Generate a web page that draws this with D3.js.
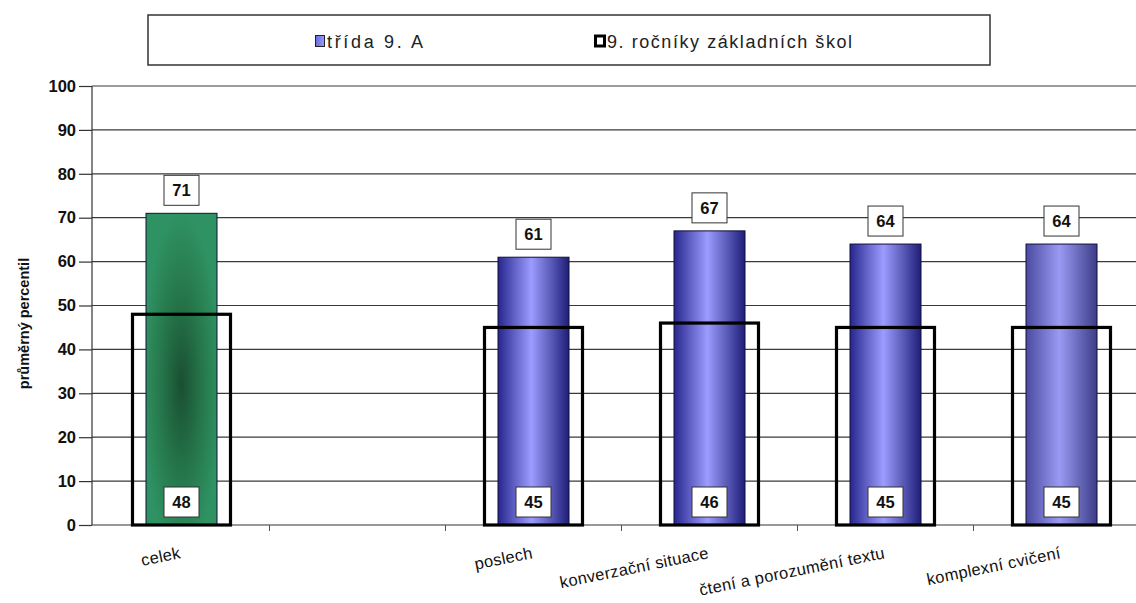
<!DOCTYPE html>
<html>
<head>
<meta charset="utf-8">
<script src="https://cdn.jsdelivr.net/npm/d3@7/dist/d3.min.js"></script>
<style>
  html, body { margin: 0; padding: 0; background: #fff; }
  svg { display: block; font-family: "Liberation Sans", Arial, sans-serif; }
</style>
</head>
<body>
<svg id="chart" width="1136" height="603"></svg>
<script>
// ---- data ----
const categories = ["celek", "", "poslech", "konverzační situace", "čtení a porozumění textu", "komplexní cvičení"];
const classValues = [71, null, 61, 67, 64, 64];      // třída 9. A
const schoolValues = [48, null, 45, 46, 45, 45];     // 9. ročníky základních škol
const yTicks = [0, 10, 20, 30, 40, 50, 60, 70, 80, 90, 100];
const seriesNames = ["třída 9. A", "9. ročníky základních škol"];
const yTitle = "průměrný percentil";

// ---- layout ----
const W = 1136, H = 603;
const axisX = 92;
const plotLeft = 93.5, band = 176;
const yTop = 86, yBottom = 525;

const svg = d3.select("#chart");
const defs = svg.append("defs");

// gradients
const blue = defs.append("linearGradient").attr("id", "gBlue").attr("x1", "0%").attr("x2", "100%").attr("y1", "0%").attr("y2", "0%");
blue.append("stop").attr("offset", "0%").attr("stop-color", "#26268e");
blue.append("stop").attr("offset", "47%").attr("stop-color", "#9c9cff");
blue.append("stop").attr("offset", "100%").attr("stop-color", "#1e1e78");

const blue2 = defs.append("linearGradient").attr("id", "gBlue2").attr("x1", "0%").attr("x2", "100%").attr("y1", "0%").attr("y2", "0%");
blue2.append("stop").attr("offset", "0%").attr("stop-color", "#4a4aa0");
blue2.append("stop").attr("offset", "47%").attr("stop-color", "#9a9af4");
blue2.append("stop").attr("offset", "100%").attr("stop-color", "#3c3c88");

const green = defs.append("radialGradient").attr("id", "gGreen").attr("cx", "50%").attr("cy", "55%").attr("r", "55%");
green.append("stop").attr("offset", "0%").attr("stop-color", "#1a4f32");
green.append("stop").attr("offset", "55%").attr("stop-color", "#26784c");
green.append("stop").attr("offset", "100%").attr("stop-color", "#2f9262");

const legendBlue = defs.append("linearGradient").attr("id", "gLeg").attr("x1", "0%").attr("x2", "100%");
legendBlue.append("stop").attr("offset", "0%").attr("stop-color", "#6a6ad8");
legendBlue.append("stop").attr("offset", "100%").attr("stop-color", "#9a9aff");

const barFill = ["url(#gGreen)", null, "url(#gBlue)", "url(#gBlue)", "url(#gBlue)", "url(#gBlue2)"];

// ---- scales ----
const idx = d3.range(categories.length);
const x = d3.scaleBand().domain(idx).range([plotLeft, plotLeft + band * categories.length]).padding(0);
const y = d3.scaleLinear().domain([0, 100]).range([yBottom, yTop]);

// gridlines
svg.append("g").selectAll("line").data(yTicks.filter(t => t > 0)).join("line")
  .attr("x1", axisX).attr("x2", W)
  .attr("y1", d => y(d)).attr("y2", d => y(d))
  .attr("stroke", "#3a3a3a").attr("stroke-width", 1.2);

// y axis
const yAxis = d3.axisLeft(y).tickValues(yTicks).tickSize(13).tickPadding(3);
const gy = svg.append("g").attr("transform", `translate(${axisX},0)`).call(yAxis);
gy.select(".domain").attr("stroke", "#333").attr("stroke-width", 1.2).attr("d", `M0,${yTop}V${yBottom}`);
gy.selectAll(".tick line").attr("stroke", "#333").attr("stroke-width", 1.2);
gy.selectAll(".tick text").attr("font-size", 16.5).attr("font-weight", "bold").attr("fill", "#111")
  .attr("font-family", "Liberation Sans, Arial, sans-serif");

// y title
svg.append("text").attr("transform", `translate(29,${(yTop + yBottom) / 2 + 18}) rotate(-90)`)
  .attr("text-anchor", "middle").attr("font-size", 14.5).attr("font-weight", "bold").attr("fill", "#111")
  .text(yTitle);

// x axis
const xBoundaries = d3.range(1, categories.length).map(i => plotLeft + band * i);
svg.append("line").attr("x1", axisX).attr("x2", W).attr("y1", yBottom).attr("y2", yBottom)
  .attr("stroke", "#333").attr("stroke-width", 1.2);
svg.append("g").selectAll("line").data(xBoundaries).join("line")
  .attr("x1", d => d).attr("x2", d => d).attr("y1", yBottom).attr("y2", yBottom + 6)
  .attr("stroke", "#555").attr("stroke-width", 1);

// x labels
svg.append("g").selectAll("text").data(idx.filter(i => categories[i] !== "")).join("text")
  .attr("transform", i => `translate(${x(i) + x.bandwidth() / 2},${yBottom + 33}) rotate(-11.5)`)
  .attr("text-anchor", "end").attr("font-size", 16.5).attr("fill", "#111")
  .attr("letter-spacing", 0.3)
  .text(i => categories[i]);

// bars (třída 9. A)
const barW = 71, boxW = 98;
const valid = idx.filter(i => classValues[i] != null);
svg.append("g").selectAll("rect").data(valid).join("rect")
  .attr("x", i => x(i) + x.bandwidth() / 2 - barW / 2)
  .attr("width", barW)
  .attr("y", i => y(classValues[i]))
  .attr("height", i => y(0) - y(classValues[i]))
  .attr("fill", i => barFill[i])
  .attr("stroke", "#10103a").attr("stroke-width", 1);

// outline boxes (9. ročníky)
svg.append("g").selectAll("rect").data(valid).join("rect")
  .attr("x", i => x(i) + x.bandwidth() / 2 - boxW / 2)
  .attr("width", boxW)
  .attr("y", i => y(schoolValues[i]))
  .attr("height", i => y(0) - y(schoolValues[i]))
  .attr("fill", "none").attr("stroke", "#000").attr("stroke-width", 3.2);

// value labels
function label(g, cx, cyTop, txt) {
  const bw = 35, bh = 30;
  g.append("rect").attr("x", cx - bw / 2).attr("y", cyTop).attr("width", bw).attr("height", bh)
    .attr("fill", "#fff").attr("stroke", "#333").attr("stroke-width", 1);
  g.append("text").attr("x", cx).attr("y", cyTop + bh / 2 + 6).attr("text-anchor", "middle")
    .attr("font-size", 16.5).attr("font-weight", "bold").attr("fill", "#111").text(txt);
}
const gl = svg.append("g");
valid.forEach(i => {
  const cx = x(i) + x.bandwidth() / 2;
  label(gl, cx, y(classValues[i]) - 38, classValues[i]);
  label(gl, cx, y(0) - 38, schoolValues[i]);
});

// legend
const lg = svg.append("g");
lg.append("rect").attr("x", 148).attr("y", 15).attr("width", 842).attr("height", 50)
  .attr("fill", "#fff").attr("stroke", "#333").attr("stroke-width", 1.5);
lg.append("rect").attr("x", 315.5).attr("y", 35.5).attr("width", 9).attr("height", 11)
  .attr("fill", "url(#gLeg)").attr("stroke", "#222").attr("stroke-width", 1);
lg.append("text").attr("x", 327).attr("y", 47.5).attr("font-size", 18).attr("fill", "#222")
  .attr("textLength", 96).attr("lengthAdjust", "spacing").text(seriesNames[0]);
lg.append("rect").attr("x", 595.5).attr("y", 36).attr("width", 9).attr("height", 10)
  .attr("fill", "#fff").attr("stroke", "#000").attr("stroke-width", 3);
lg.append("text").attr("x", 607).attr("y", 47.5).attr("font-size", 18).attr("fill", "#222")
  .attr("textLength", 245).attr("lengthAdjust", "spacing").text(seriesNames[1]);
</script>
</body>
</html>
